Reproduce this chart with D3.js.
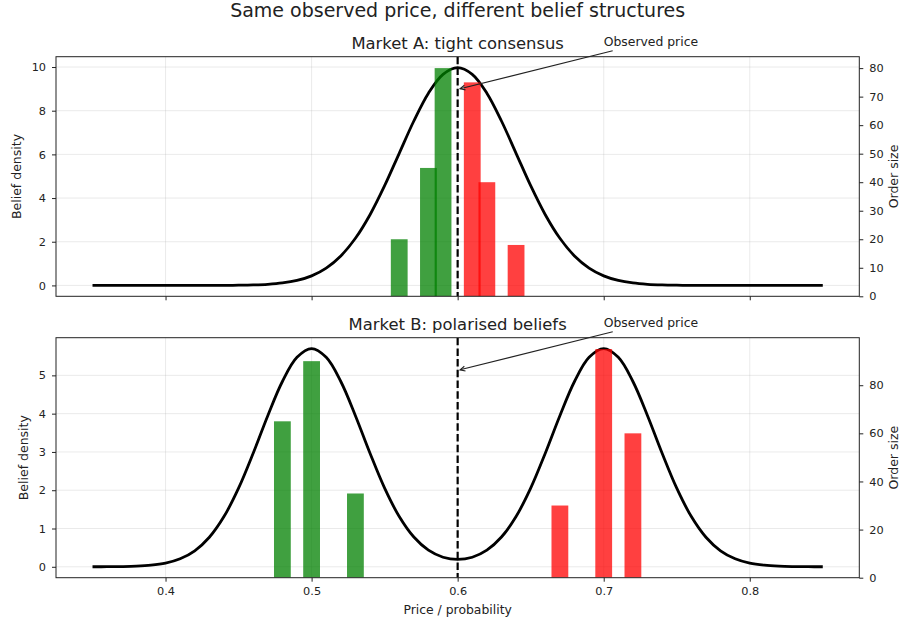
<!DOCTYPE html>
<html>
<head>
<meta charset="utf-8">
<script src="https://cdn.jsdelivr.net/npm/d3@7"></script>
<style>
  body { margin: 0; background: #fff; }
  text { font-family: "DejaVu Sans", sans-serif; fill: #222; }
</style>
</head>
<body>
<div id="chart"></div>
<script>
// price grid for the belief curves
const priceGrid = [0.35, 0.36, 0.37, 0.38, 0.39, 0.40, 0.41, 0.42, 0.43, 0.44,
  0.45, 0.46, 0.47, 0.48, 0.49, 0.50, 0.51, 0.52, 0.53, 0.54,
  0.55, 0.56, 0.57, 0.58, 0.59, 0.60, 0.61, 0.62, 0.63, 0.64,
  0.65, 0.66, 0.67, 0.68, 0.69, 0.70, 0.71, 0.72, 0.73, 0.74,
  0.75, 0.76, 0.77, 0.78, 0.79, 0.80, 0.81, 0.82, 0.83, 0.84, 0.85];

// Market A: one tight bump around 0.6
const densityA = [0, 0, 0, 0, 0, 0, 0, 0, 0.001, 0.003,
  0.009, 0.022, 0.051, 0.111, 0.227, 0.438, 0.794, 1.35, 2.158, 3.238,
  4.566, 6.049, 7.528, 8.802, 9.667, 9.974, 9.667, 8.802, 7.528, 6.049,
  4.566, 3.238, 2.158, 1.35, 0.794, 0.438, 0.227, 0.111, 0.051, 0.022,
  0.009, 0.003, 0.001, 0, 0, 0, 0, 0, 0, 0, 0];

// Market B: two camps around 0.5 and 0.7
const densityB = [0.001, 0.002, 0.006, 0.016, 0.041, 0.096, 0.209, 0.418, 0.771, 1.311,
  2.054, 2.966, 3.947, 4.84, 5.471, 5.699, 5.471, 4.84, 3.947, 2.966,
  2.054, 1.313, 0.777, 0.434, 0.25, 0.192, 0.25, 0.434, 0.777, 1.313,
  2.054, 2.966, 3.947, 4.84, 5.471, 5.699, 5.471, 4.84, 3.947, 2.966,
  2.054, 1.311, 0.771, 0.418, 0.209, 0.096, 0.041, 0.016, 0.006, 0.002, 0.001];

// order book bars (buys green, sells red)
const buyPricesA = [0.56, 0.58, 0.59];
const buySizesA = [20, 45, 80];
const sellPricesA = [0.61, 0.62, 0.64];
const sellSizesA = [75, 40, 18];

const buyPricesB = [0.48, 0.50, 0.53];
const buySizesB = [65, 90, 35];
const sellPricesB = [0.67, 0.70, 0.72];
const sellSizesB = [30, 95, 60];

const observedPrice = 0.6;
const barWidth = 0.0115;

const xTicks = [0.4, 0.5, 0.6, 0.7, 0.8];
const leftTicksA = [0, 2, 4, 6, 8, 10];
const rightTicksA = [0, 10, 20, 30, 40, 50, 60, 70, 80];
const leftTicksB = [0, 1, 2, 3, 4, 5];
const rightTicksB = [0, 20, 40, 60, 80];

const width = 901, height = 623;
const plotLeft = 56, plotRight = 859.3;

const svg = d3.select('#chart').append('svg')
  .attr('width', width)
  .attr('height', height);

// shared x scale, 5% margin like matplotlib
const xMin = d3.min(priceGrid), xMax = d3.max(priceGrid);
const xPad = (xMax - xMin) * 0.05;
const x = d3.scaleLinear().domain([xMin - xPad, xMax + xPad]).range([plotLeft, plotRight]);

svg.append('text')
  .attr('x', (plotLeft + plotRight) / 2)
  .attr('y', 17)
  .attr('text-anchor', 'middle')
  .style('font-size', '19px')
  .text('Same observed price, different belief structures');

const panels = [
  { title: 'Market A: tight consensus', top: 56.7, bottom: 296.3, density: densityA,
    buyP: buyPricesA, buyS: buySizesA, sellP: sellPricesA, sellS: sellSizesA,
    leftTicks: leftTicksA, rightTicks: rightTicksA, showX: false, ylabelX: 16.5 },
  { title: 'Market B: polarised beliefs', top: 337.7, bottom: 577.7, density: densityB,
    buyP: buyPricesB, buyS: buySizesB, sellP: sellPricesB, sellS: sellSizesB,
    leftTicks: leftTicksB, rightTicks: rightTicksB, showX: true, ylabelX: 23.5 }
];

panels.forEach(p => drawPanel(p));

function drawPanel(p) {
  const g = svg.append('g');
  const dMax = d3.max(p.density);
  const y = d3.scaleLinear().domain([-dMax * 0.05, dMax * 1.05]).range([p.bottom, p.top]);
  const sizeMax = d3.max(p.buyS.concat(p.sellS));
  const y2 = d3.scaleLinear().domain([0, sizeMax * 1.05]).range([p.bottom, p.top]);

  const clipId = 'clip' + Math.round(p.top);
  g.append('clipPath').attr('id', clipId)
    .append('rect')
    .attr('x', plotLeft).attr('y', p.top)
    .attr('width', plotRight - plotLeft).attr('height', p.bottom - p.top);

  // grid
  const grid = g.append('g').attr('stroke', '#b0b0b0').attr('stroke-opacity', 0.3).attr('stroke-width', 0.9);
  xTicks.forEach(t => grid.append('line')
    .attr('x1', x(t)).attr('x2', x(t)).attr('y1', p.top).attr('y2', p.bottom));
  p.leftTicks.forEach(t => grid.append('line')
    .attr('x1', plotLeft).attr('x2', plotRight).attr('y1', y(t)).attr('y2', y(t)));

  const inner = g.append('g').attr('clip-path', `url(#${clipId})`);

  // belief density curve
  const line = d3.line()
    .x((d, i) => x(priceGrid[i]))
    .y(d => y(d))
    .curve(d3.curveCatmullRom);
  inner.append('path')
    .datum(p.density)
    .attr('d', line)
    .attr('fill', 'none')
    .attr('stroke', '#000')
    .attr('stroke-width', 2.8)
    .attr('stroke-linejoin', 'round');

  // observed price
  inner.append('line')
    .attr('x1', x(observedPrice)).attr('x2', x(observedPrice))
    .attr('y1', p.top).attr('y2', p.bottom)
    .attr('stroke', '#000')
    .attr('stroke-width', 2.2)
    .attr('stroke-dasharray', '7.5,3.2');

  // bars on twin axis
  const bars = inner.append('g');
  bars.selectAll('.buy')
    .data(p.buyP)
    .enter().append('rect')
    .attr('class', 'buy')
    .attr('x', d => x(d - barWidth / 2))
    .attr('width', x(barWidth) - x(0))
    .attr('y', (d, i) => y2(p.buyS[i]))
    .attr('height', (d, i) => y2(0) - y2(p.buyS[i]))
    .attr('fill', 'green')
    .attr('fill-opacity', 0.75);
  bars.selectAll('.sell')
    .data(p.sellP)
    .enter().append('rect')
    .attr('class', 'sell')
    .attr('x', d => x(d - barWidth / 2))
    .attr('width', x(barWidth) - x(0))
    .attr('y', (d, i) => y2(p.sellS[i]))
    .attr('height', (d, i) => y2(0) - y2(p.sellS[i]))
    .attr('fill', 'red')
    .attr('fill-opacity', 0.75);

  // frame
  g.append('rect')
    .attr('x', plotLeft).attr('y', p.top)
    .attr('width', plotRight - plotLeft).attr('height', p.bottom - p.top)
    .attr('fill', 'none').attr('stroke', '#222').attr('stroke-width', 1);

  // axes
  const axisLeft = d3.axisLeft(y).tickValues(p.leftTicks).tickSize(4).tickPadding(6).tickFormat(d3.format('d'));
  const axisRight = d3.axisRight(y2).tickValues(p.rightTicks).tickSize(4).tickPadding(6).tickFormat(d3.format('d'));
  const axisBottom = d3.axisBottom(x).tickValues(xTicks).tickSize(4).tickPadding(5)
    .tickFormat(p.showX ? d3.format('.1f') : () => '');

  [
    g.append('g').attr('transform', `translate(${plotLeft},0)`).call(axisLeft),
    g.append('g').attr('transform', `translate(${plotRight},0)`).call(axisRight),
    g.append('g').attr('transform', `translate(0,${p.bottom})`).call(axisBottom)
  ].forEach(a => {
    a.select('.domain').remove();
    a.selectAll('line').attr('stroke', '#222');
    a.selectAll('text').style('font-size', '11.3px').attr('fill', '#222').style('font-family', '"DejaVu Sans", sans-serif');
  });

  // titles and labels
  g.append('text')
    .attr('x', (plotLeft + plotRight) / 2)
    .attr('y', p.top - 7.8)
    .attr('text-anchor', 'middle')
    .style('font-size', '16.4px')
    .text(p.title);

  const midY = (p.top + p.bottom) / 2;
  g.append('text')
    .attr('transform', `translate(${p.ylabelX},${midY}) rotate(-90)`)
    .attr('text-anchor', 'middle')
    .attr('dy', '0.35em')
    .style('font-size', '12.5px')
    .text('Belief density');
  g.append('text')
    .attr('transform', `translate(893.5,${midY}) rotate(-90)`)
    .attr('text-anchor', 'middle')
    .attr('dy', '0.35em')
    .style('font-size', '12.5px')
    .text('Order size');

  if (p.showX) {
    g.append('text')
      .attr('x', (plotLeft + plotRight) / 2)
      .attr('y', 614)
      .attr('text-anchor', 'middle')
      .style('font-size', '12.4px')
      .text('Price / probability');
  }

  // annotation: text at (0.7, 1.1*peak), arrow to (0.6, 0.9*peak)
  const label = g.append('text')
    .attr('x', x(0.7))
    .attr('y', y(dMax * 1.1))
    .style('font-size', '12.4px')
    .text('Observed price');
  const bb = label.node().getBBox();
  const cx = bb.x + bb.width / 2, cy = bb.y + bb.height / 2;
  const tx = x(observedPrice), ty = y(dMax * 0.9);
  // start where the line leaves the text box
  const dx = tx - cx, dy = ty - cy;
  const tEdge = Math.min(Math.abs((bb.height / 2 + 2) / dy), Math.abs((bb.width / 2 + 2) / dx));
  const sx = cx + dx * tEdge, sy = cy + dy * tEdge;
  const len = Math.hypot(tx - sx, ty - sy);
  const ux = (tx - sx) / len, uy = (ty - sy) / len;
  const ex = tx - ux * 2.5, ey = ty - uy * 2.5;
  g.append('line')
    .attr('x1', sx).attr('y1', sy).attr('x2', ex).attr('y2', ey)
    .attr('stroke', '#222').attr('stroke-width', 1.1);
  const hl = 5, hw = 2.4;
  g.append('path')
    .attr('d', `M${ex - ux * hl - uy * hw},${ey - uy * hl + ux * hw}L${ex},${ey}L${ex - ux * hl + uy * hw},${ey - uy * hl - ux * hw}`)
    .attr('fill', 'none').attr('stroke', '#222').attr('stroke-width', 1.1);
}
</script>
</body>
</html>
